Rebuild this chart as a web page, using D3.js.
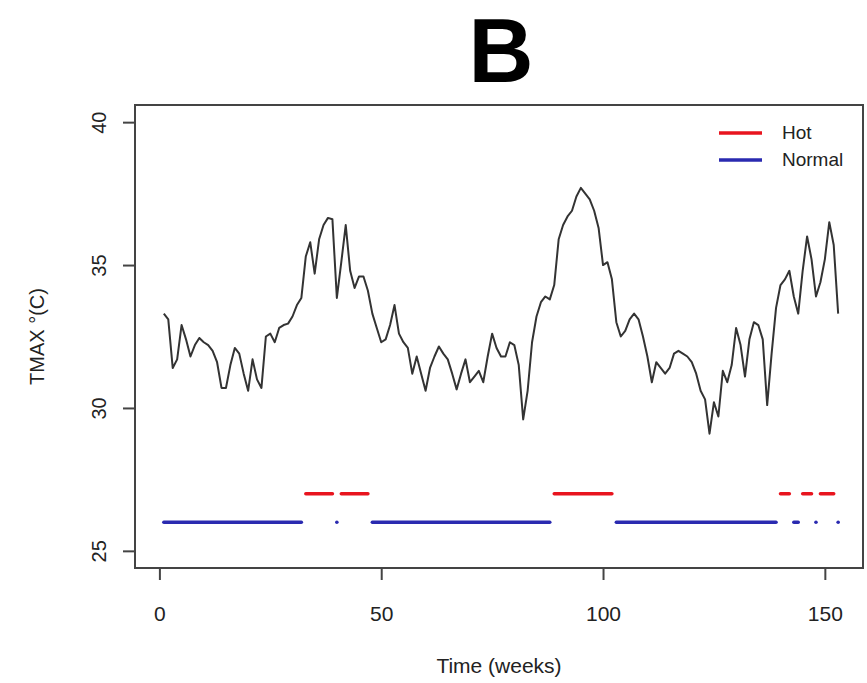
<!DOCTYPE html>
<html><head><meta charset="utf-8">
<script src="https://cdn.jsdelivr.net/npm/d3@7"></script>
<style>body{margin:0;background:#fff}svg{display:block}text{font-family:"Liberation Sans",Arial,sans-serif}</style>
</head><body>
<svg id="c" width="867" height="683"></svg>
<script>
// Weekly maximum temperature (weeks 1..153)
const tmax = [33.3,33.1,31.4,31.7,32.9,32.4,31.8,32.2,32.45,32.3,
32.2,32.0,31.6,30.7,30.7,31.5,32.1,31.9,31.2,30.6,
31.7,31.0,30.7,32.5,32.6,32.3,32.8,32.9,32.95,33.2,
33.6,33.85,35.3,35.8,34.7,35.9,36.4,36.65,36.6,33.85,
35.1,36.4,34.8,34.2,34.6,34.6,34.1,33.3,32.8,32.3,
32.4,32.9,33.6,32.6,32.3,32.1,31.2,31.8,31.2,30.6,
31.4,31.8,32.15,31.9,31.7,31.2,30.65,31.2,31.7,30.9,
31.1,31.3,30.9,31.8,32.6,32.1,31.8,31.8,32.3,32.2,
31.5,29.6,30.6,32.3,33.2,33.7,33.9,33.8,34.3,35.9,
36.4,36.7,36.9,37.4,37.7,37.5,37.3,36.9,36.3,35.0,
35.1,34.5,33.0,32.5,32.7,33.1,33.3,33.1,32.5,31.8,
30.9,31.6,31.4,31.2,31.4,31.9,32.0,31.9,31.8,31.6,
31.2,30.6,30.3,29.1,30.2,29.7,31.3,30.9,31.5,32.8,
32.2,31.1,32.4,33.0,32.9,32.4,30.1,31.9,33.5,34.3,
34.5,34.8,33.9,33.3,34.8,36.0,35.2,33.9,34.4,35.2,
36.5,35.7,33.3];
const weeks = tmax.map((d,i)=>i+1);
// State periods (week ranges)
const hotRanges = [[33,39],[41,47],[89,102],[140,142],[145,147],[149,152]];
const normalRanges = [[1,32],[40,40],[48,88],[103,139],[143,144],[148,148],[153,153]];
const hotLevel = 27, normalLevel = 26;
const xTicks = [0,50,100,150];
const yTicks = [25,30,35,40];
const legendLabels = ["Hot","Normal"];
const colors = {Hot:"#e8141e", Normal:"#2a2ab0"};

const svg = d3.select("#c");
const L=135,R=863,T=105,B=568;
const x = d3.scaleLinear().domain([-5.5,158.6]).range([L,R]);
const y = d3.scaleLinear().domain([24.4,40.6]).range([B,T]);
const axisCol="#444";

// title
svg.append("text").attr("x",501).attr("y",82).attr("text-anchor","middle")
  .attr("font-size",90).attr("font-weight","bold").attr("fill","#000").text("B");

// box
svg.append("rect").attr("x",L).attr("y",T).attr("width",R-L).attr("height",B-T)
  .attr("fill","none").attr("stroke",axisCol).attr("stroke-width",2);

// axes
const xa = svg.append("g").attr("transform",`translate(0,${B})`)
  .call(d3.axisBottom(x).tickValues(xTicks).tickSize(12).tickPadding(26).tickFormat(d3.format("d")));
xa.select(".domain").attr("stroke",axisCol).attr("stroke-width",2)
  .attr("d",`M${x(0)},0H${x(150)}`);
xa.selectAll(".tick line").attr("stroke",axisCol).attr("stroke-width",2);
xa.selectAll(".tick text").attr("font-size",21).attr("fill","#222")
  .attr("font-family","Liberation Sans, Arial, sans-serif");

const ya = svg.append("g").attr("transform",`translate(${L},0)`)
  .call(d3.axisLeft(y).tickValues(yTicks).tickSize(12).tickFormat(d3.format("d")));
ya.select(".domain").attr("stroke",axisCol).attr("stroke-width",2)
  .attr("d",`M0,${y(25)}V${y(40)}`);
ya.selectAll(".tick line").attr("stroke",axisCol).attr("stroke-width",2);
ya.selectAll(".tick text").attr("font-size",20).attr("fill","#222")
  .attr("font-family","Liberation Sans, Arial, sans-serif")
  .attr("x",0).attr("dy",null).attr("text-anchor","middle")
  .attr("transform","translate(-36,0) rotate(-90)").attr("dominant-baseline","central");

// axis titles
svg.append("text").attr("x",(L+R)/2).attr("y",673).attr("text-anchor","middle")
  .attr("font-size",21).attr("fill","#222").text("Time (weeks)");
svg.append("text").attr("transform",`translate(44,${(T+B)/2}) rotate(-90)`)
  .attr("text-anchor","middle").attr("font-size",20).attr("fill","#222").text("TMAX °(C)");

// temperature line
const line = d3.line().x((d,i)=>x(weeks[i])).y(d=>y(d));
svg.append("path").datum(tmax).attr("d",line).attr("fill","none")
  .attr("stroke","#333").attr("stroke-width",2).attr("stroke-linejoin","round");

// state segments
function drawRanges(ranges, level, col){
  ranges.forEach(([a,b])=>{
    if(a===b){
      svg.append("circle").attr("cx",x(a)).attr("cy",y(level)).attr("r",1.8).attr("fill",col);
    } else {
      svg.append("line").attr("x1",x(a)).attr("x2",x(b)).attr("y1",y(level)).attr("y2",y(level))
        .attr("stroke",col).attr("stroke-width",3.5).attr("stroke-linecap","round");
    }
  });
}
drawRanges(hotRanges, hotLevel, colors.Hot);
drawRanges(normalRanges, normalLevel, colors.Normal);

// legend
legendLabels.forEach((lab,i)=>{
  const ly = 133 + i*27;
  svg.append("line").attr("x1",719).attr("x2",762).attr("y1",ly).attr("y2",ly)
    .attr("stroke",colors[lab]).attr("stroke-width",3.5);
  svg.append("text").attr("x",782).attr("y",ly+6).attr("font-size",19).attr("fill","#222").text(lab);
});
</script>
</body></html>
